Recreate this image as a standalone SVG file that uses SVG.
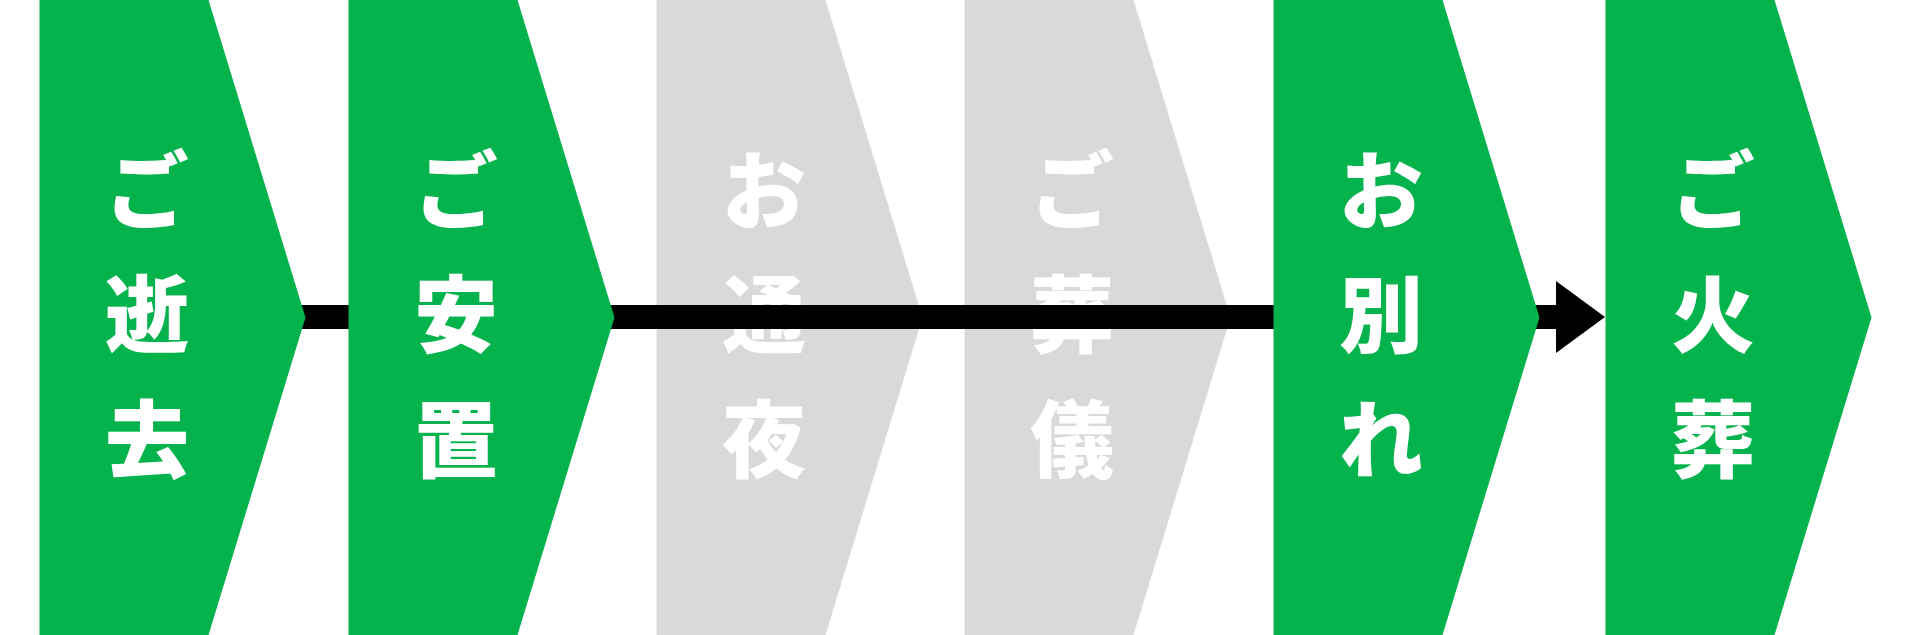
<svg xmlns="http://www.w3.org/2000/svg" width="1916" height="635" viewBox="0 0 1916 635">
  <style>
    .green { fill: #04B34C; stroke: #04B34C; stroke-width: 1; stroke-linejoin: round; }
    .gray { fill: #D9D9D9; stroke: #D9D9D9; stroke-width: 1; stroke-linejoin: round; }
    .label { fill: #FFFFFF; font-family: "Noto Sans CJK JP", "Noto Sans CJK SC", sans-serif; font-weight: 900; font-size: 84px; text-anchor: middle; }
    .conn { stroke: #000000; stroke-width: 24; fill: none; }
  </style>
  <defs>
    <marker id="arrow" markerUnits="userSpaceOnUse" viewBox="0 0 49 72" refX="0" refY="36" markerWidth="49" markerHeight="72" orient="auto">
      <path d="M0,0 L49,36 L0,72 Z" fill="#000000"/>
    </marker>
  </defs>
  <rect x="0" y="0" width="1916" height="635" fill="#FFFFFF"/>

  <g id="node-tsuya">
    <polygon class="gray" points="657,0 825,0 922,317.5 825,635 657,635"/>
    <text class="label"><tspan x="764" y="222">お</tspan><tspan x="764" y="346">通</tspan><tspan x="764" y="471">夜</tspan></text>
  </g>
  <g id="node-sougi">
    <polygon class="gray" points="965,0 1133,0 1230,317.5 1133,635 965,635"/>
    <text class="label"><tspan x="1072" y="222">ご</tspan><tspan x="1072" y="346">葬</tspan><tspan x="1072" y="471">儀</tspan></text>
  </g>

  <g id="connectors">
    <line class="conn" x1="300" y1="317" x2="1556" y2="317" marker-end="url(#arrow)"/>
  </g>

  <g id="node-seikyo">
    <polygon class="green" points="40,0 208,0 305,317.5 208,635 40,635"/>
    <text class="label"><tspan x="147" y="222">ご</tspan><tspan x="147" y="346">逝</tspan><tspan x="147" y="471">去</tspan></text>
  </g>
  <g id="node-anchi">
    <polygon class="green" points="349,0 517,0 614,317.5 517,635 349,635"/>
    <text class="label"><tspan x="456" y="222">ご</tspan><tspan x="456" y="346">安</tspan><tspan x="456" y="471">置</tspan></text>
  </g>
  <g id="node-owakare">
    <polygon class="green" points="1274,0 1442,0 1539,317.5 1442,635 1274,635"/>
    <text class="label"><tspan x="1381" y="222">お</tspan><tspan x="1381" y="346">別</tspan><tspan x="1381" y="471">れ</tspan></text>
  </g>
  <g id="node-kasou">
    <polygon class="green" points="1606,0 1774,0 1871,317.5 1774,635 1606,635"/>
    <text class="label"><tspan x="1713" y="222">ご</tspan><tspan x="1713" y="346">火</tspan><tspan x="1713" y="471">葬</tspan></text>
  </g>
</svg>
